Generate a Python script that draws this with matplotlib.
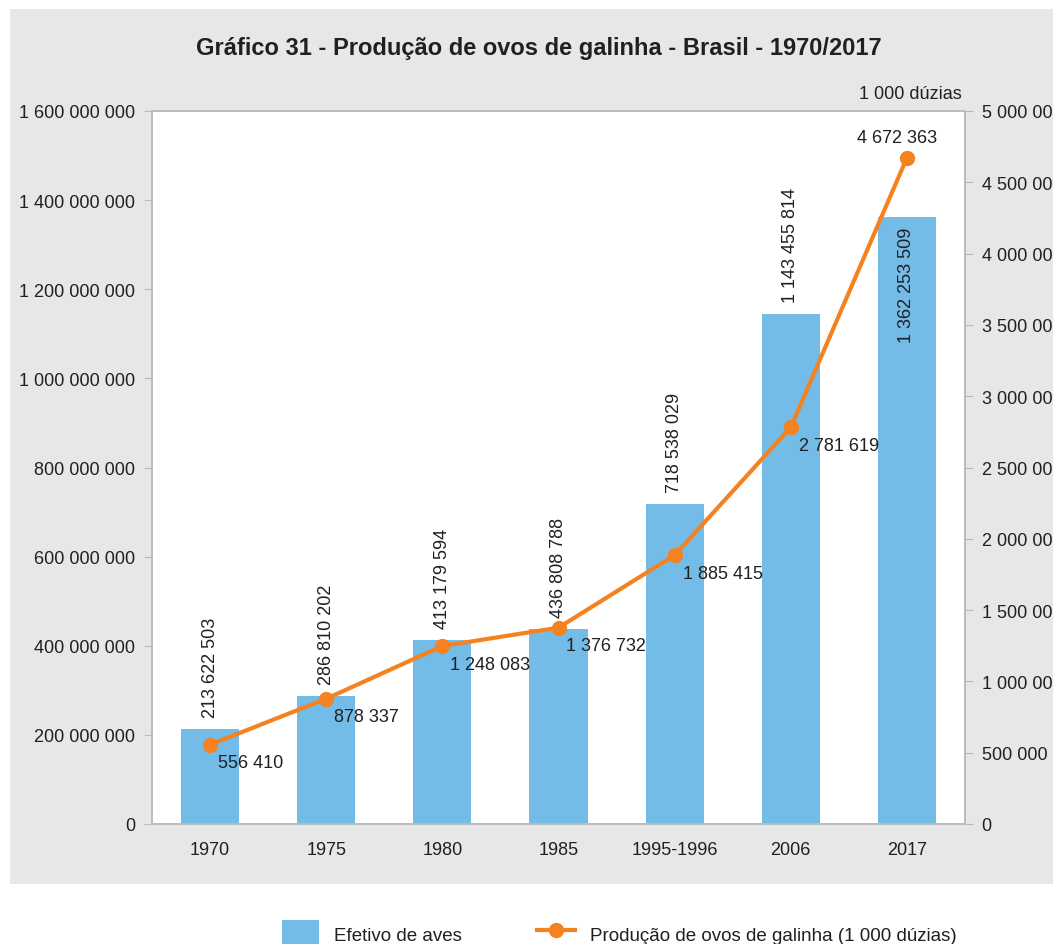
import matplotlib
matplotlib.use("Agg")
import matplotlib.pyplot as plt
from matplotlib.patches import Rectangle
from matplotlib.lines import Line2D
from matplotlib.patches import Patch

categories = ["1970", "1975", "1980", "1985", "1995-1996", "2006", "2017"]
aves = [213622503, 286810202, 413179594, 436808788, 718538029, 1143455814, 1362253509]
ovos = [556410, 878337, 1248083, 1376732, 1885415, 2781619, 4672363]
left_ticks = [0, 200e6, 400e6, 600e6, 800e6, 1000e6, 1200e6, 1400e6, 1600e6]
right_ticks = [0, 500e3, 1000e3, 1500e3, 2000e3, 2500e3, 3000e3, 3500e3, 4000e3, 4500e3, 5000e3]

def fmt(v):
    return f"{int(v):,}".replace(",", " ")

plt.rcParams['font.family'] = ['Liberation Sans', 'DejaVu Sans']
TXT = "#231F20"
BLUE = "#74BCE8"
ORANGE = "#F58220"
GRID = "#BBBBBB"
FS = 13

W, H = 1053, 945
fig = plt.figure(figsize=(W / 100, H / 100), dpi=100)
fig.patches.append(Rectangle((10 / W, (H - 885) / H), 1 - 10 / W, (885 - 10) / H,
                             transform=fig.transFigure, facecolor="#E6E7E9",
                             edgecolor="none", zorder=-10))

ax = fig.add_axes([152 / W, (H - 825) / H, (965 - 152) / W, (825 - 112) / H])
ax.set_facecolor("white")
x = list(range(len(categories)))
ax.bar(x, aves, width=0.5, color=BLUE, zorder=2)
ax.set_xlim(-0.5, 6.5)
ax.set_ylim(0, 1600e6)
ax.set_yticks(left_ticks)
ax.set_yticklabels([fmt(v) for v in left_ticks], fontsize=FS, color=TXT)
ax.set_xticks(x)
ax.set_xticklabels(categories, fontsize=FS, color=TXT)
ax.tick_params(axis='x', length=0, pad=12)
ax.tick_params(axis='y', length=6, color=GRID, pad=6)
for s in ax.spines.values():
    s.set_color(GRID)
    s.set_linewidth(1.2)

for i, v in enumerate(aves):
    if i == len(aves) - 1:
        ax.annotate(fmt(v), (i, v), xytext=(0, -10), textcoords="offset pixels",
                    rotation=90, ha="center", va="top", fontsize=FS, color=TXT, zorder=5)
    else:
        ax.annotate(fmt(v), (i, v), xytext=(0, 12), textcoords="offset pixels",
                    rotation=90, ha="center", va="bottom", fontsize=FS, color=TXT, zorder=5)

ax2 = ax.twinx()
ax2.set_ylim(0, 5000e3)
ax2.plot(x, ovos, color=ORANGE, lw=3, marker="o", ms=10, zorder=4)
ax2.set_yticks(right_ticks)
ax2.set_yticklabels([fmt(v) for v in right_ticks], fontsize=FS, color=TXT)
ax2.tick_params(axis='y', length=6, color=GRID, pad=6)
for s in ax2.spines.values():
    s.set_color(GRID)
    s.set_linewidth(1.2)

for i, v in enumerate(ovos):
    if i == len(ovos) - 1:
        ax2.annotate(fmt(v), (i, v), xytext=(-10, 20), textcoords="offset pixels",
                     ha="center", va="center", fontsize=FS, color=TXT, zorder=6)
    else:
        ax2.annotate(fmt(v), (i, v), xytext=(8, -18), textcoords="offset pixels",
                     ha="left", va="center", fontsize=FS, color=TXT, zorder=6)

fig.text(962 / W, 1 - 95 / H, "1 000 dúzias", ha="right", va="center",
         fontsize=FS, color=TXT)
fig.text(539 / W, 1 - 48 / H, "Gráfico 31 - Produção de ovos de galinha - Brasil - 1970/2017",
         ha="center", va="center", fontsize=17, fontweight="bold", color=TXT)

handles = [Patch(facecolor=BLUE, edgecolor="none"),
           Line2D([0], [0], color=ORANGE, lw=3, marker="o", ms=10)]
fig.legend(handles, ["Efetivo de aves", "Produção de ovos de galinha (1 000 dúzias)"],
           loc="center", bbox_to_anchor=(619 / W, 1 - 935 / H), ncol=2, frameon=False,
           prop={'size': 13.5}, handlelength=2.0, handleheight=2.0, columnspacing=4.0,
           handletextpad=0.8, labelcolor=TXT)

fig.savefig("out.png", dpi=100)
